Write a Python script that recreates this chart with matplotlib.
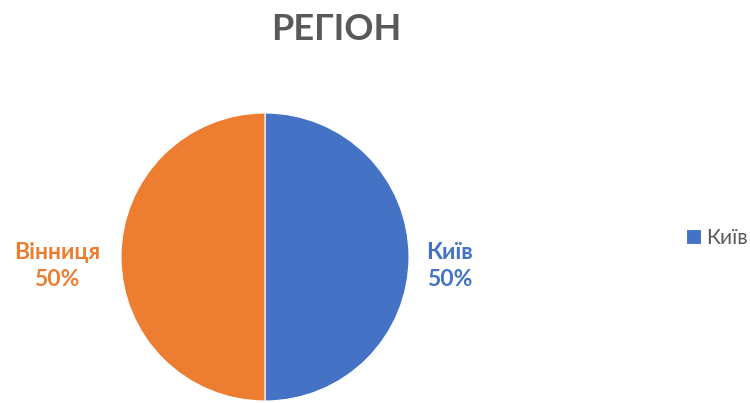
import matplotlib.pyplot as plt

plt.rcParams['font.family'] = ['Lato', 'DejaVu Sans']

title = 'РЕГІОН'
regions = ['Київ', 'Вінниця']
shares = [50, 50]
colors = ['#4472C4', '#ED7D31']

fig = plt.figure(figsize=(7.5, 4.03), dpi=100)
fig.patch.set_facecolor('white')

# square axes in pixel terms so the pie stays round
ax = fig.add_axes([(265 - 150) / 750, (403 - 257 - 150) / 403, 300 / 750, 300 / 403])

wedges, _ = ax.pie(shares, colors=colors, startangle=90, counterclock=False,
                   radius=0.96, center=(0, 0), frame=False,
                   wedgeprops=dict(edgecolor='white', linewidth=0.8))
ax.set_xlim(-1, 1)
ax.set_ylim(-1, 1)
ax.axis('off')

# data labels: name + percent next to each half
total = sum(shares)
label_x = [1.233, -1.387]
for name, val, col, lx in zip(regions, shares, colors, label_x):
    ax.text(lx, -0.06, '{}\n{:.0f}%'.format(name, 100 * val / total),
            color=col, fontsize=16.5, fontweight='bold', ha='center', va='center',
            linespacing=1.3, clip_on=False)

fig.text(336 / 750, 1 - 30 / 403, title, ha='center', va='center',
         fontsize=26, fontweight='bold', color='#595959')

leg = fig.legend([wedges[0]], [regions[0]], loc='center left',
                 bbox_to_anchor=(686 / 750, 1 - 238 / 403), frameon=False,
                 fontsize=15, handlelength=0.7, handleheight=0.7,
                 handletextpad=0.25, borderaxespad=0, borderpad=0)
for t in leg.get_texts():
    t.set_color('#595959')

fig.savefig('out.png', dpi=100)
